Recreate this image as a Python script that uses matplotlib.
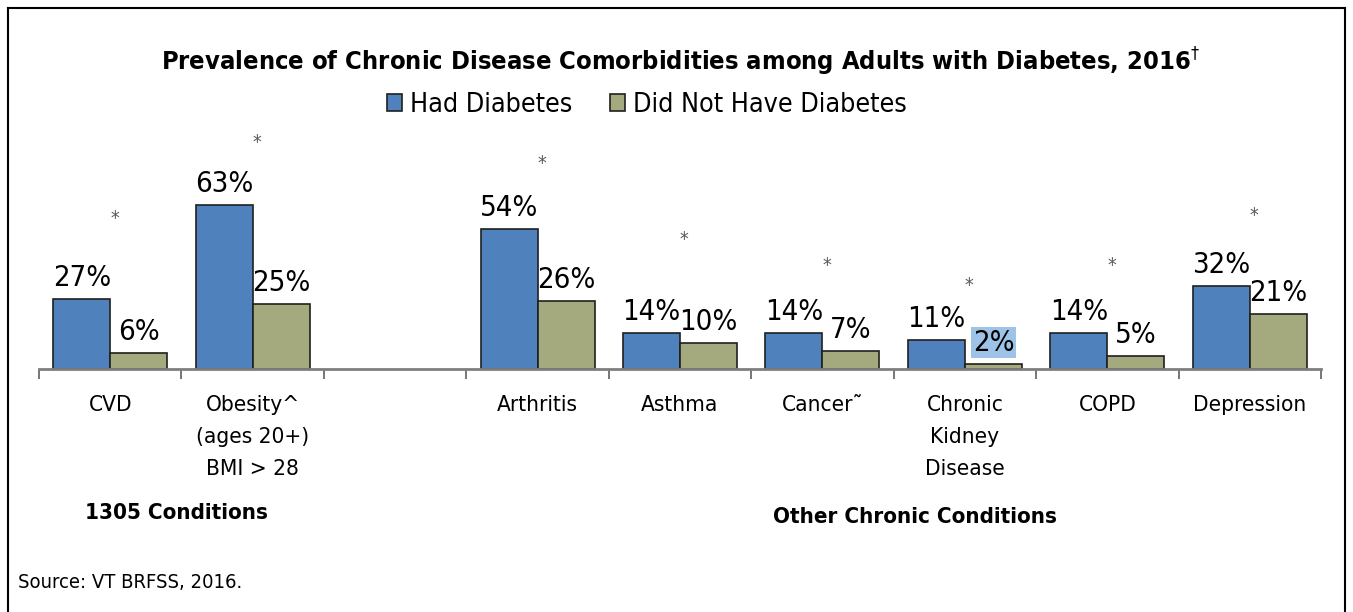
import os
import numpy as np
import matplotlib
matplotlib.use('Agg')
import matplotlib.pyplot as plt
from matplotlib import font_manager
from matplotlib.lines import Line2D

# data
categories = ['CVD', 'Obesity^\n(ages 20+)\nBMI > 28', 'Arthritis', 'Asthma',
              'Cancer˜', 'Chronic\nKidney\nDisease', 'COPD', 'Depression']
had_diabetes = [27, 63, 54, 14, 14, 11, 14, 32]
no_diabetes = [6, 25, 26, 10, 7, 2, 5, 21]
series_names = ['Had Diabetes', 'Did Not Have Diabetes']
group_names = ['1305 Conditions', 'Other Chronic Conditions']
group_sizes = [2, 6]
star_heights = [58, 87, 79, 50, 40, 32, 40, 59]
highlight = [5]  # index of the highlighted label (Did Not Have, CKD)

# narrow look: register the condensed DejaVu files directly if they exist
cond_files = [f for f in font_manager.findSystemFonts()
              if os.path.basename(f).startswith('DejaVuSansCondensed')]
for f in cond_files:
    font_manager.fontManager.addfont(f)
plt.rcParams['font.family'] = ['DejaVu Sans']
if cond_files:
    plt.rcParams['font.stretch'] = 'condensed'
cs = 1.0 if cond_files else 0.85  # shrink text if there is no condensed face

blue = '#4F81BD'
green = '#A5A97E'

# slot positions with an empty slot between the two groups
pos = np.r_[np.arange(group_sizes[0]), np.arange(group_sizes[1]) + group_sizes[0] + 1] + 0.5
nslots = sum(group_sizes) + 1

fig = plt.figure(figsize=(13.53, 6.12), dpi=100)
W, H = 1353, 612
ax = fig.add_axes([39 / W, (H - 369) / H, (1321 - 39) / W, 260 / H])

w = 0.4
b1 = ax.bar(pos - w / 2, had_diabetes, w, color=blue, edgecolor='#1f1f1f', linewidth=1.2, label=series_names[0])
b2 = ax.bar(pos + w / 2, no_diabetes, w, color=green, edgecolor='#1f1f1f', linewidth=1.2, label=series_names[1])

ax.set_xlim(0, nslots)
ax.set_ylim(0, 100)
for s in ['top', 'right', 'left']:
    ax.spines[s].set_visible(False)
ax.spines['bottom'].set_color('#7f7f7f')
ax.spines['bottom'].set_linewidth(2)
ax.set_yticks([])
ax.set_xticks(pos)
ax.set_xticklabels(categories, fontsize=16.2 * cs, linespacing=1.75, va='top')
ax.tick_params(axis='x', which='major', length=0, pad=19)
ax.set_xticks(np.arange(nslots + 1), minor=True)
ax.tick_params(axis='x', which='minor', length=7, width=1.2, color='#5f5f5f', direction='out')

# value labels
for i, (p, a, b) in enumerate(zip(pos, had_diabetes, no_diabetes)):
    ax.annotate(f'{a}%', (p - w / 2, a), xytext=(0, 5), textcoords='offset points',
                ha='center', va='bottom', fontsize=21 * cs, annotation_clip=False)
    kw = {}
    if i in highlight:
        kw['bbox'] = dict(boxstyle='square,pad=0.05', fc='#9DC3E6', ec='none')
    ax.annotate(f'{b}%', (p + w / 2, b), xytext=(0, 5), textcoords='offset points',
                ha='center', va='bottom', fontsize=21 * cs, annotation_clip=False, **kw)
    ax.text(p + 0.03, star_heights[i], '*', ha='center', va='center',
            fontsize=14, color='#555a60', clip_on=False)

fig.text(680 / W, 1 - 62 / H,
         'Prevalence of Chronic Disease Comorbidities among Adults with Diabetes, 2016$^{\\dagger}$',
         ha='center', va='center', fontsize=18.3 * cs, fontweight='bold')
fig.legend(handles=[b1, b2], loc='center', bbox_to_anchor=(647 / W, 1 - 105 / H), ncol=2,
           frameon=False, fontsize=19.3 * cs, handlelength=0.55, handleheight=0.55, handletextpad=0.3,
           columnspacing=1.4)

fig.text(176 / W, 1 - 513 / H, group_names[0], ha='center', va='center', fontsize=16 * cs, fontweight='bold')
fig.text(915 / W, 1 - 517 / H, group_names[1], ha='center', va='center', fontsize=16 * cs, fontweight='bold')
fig.text(18 / W, 1 - 583 / H, 'Source: VT BRFSS, 2016.', ha='left', va='center', fontsize=14.5 * cs)

# frame around the chart
x0, x1, y0 = 8 / W, 1345 / W, 1 - 8 / H
for xs, ys in [([x0, x0], [0, y0]), ([x0, x1], [y0, y0]), ([x1, x1], [y0, 0])]:
    fig.add_artist(Line2D(xs, ys, color='black', linewidth=1.5, transform=fig.transFigure))

fig.savefig('out.png', dpi=100)
